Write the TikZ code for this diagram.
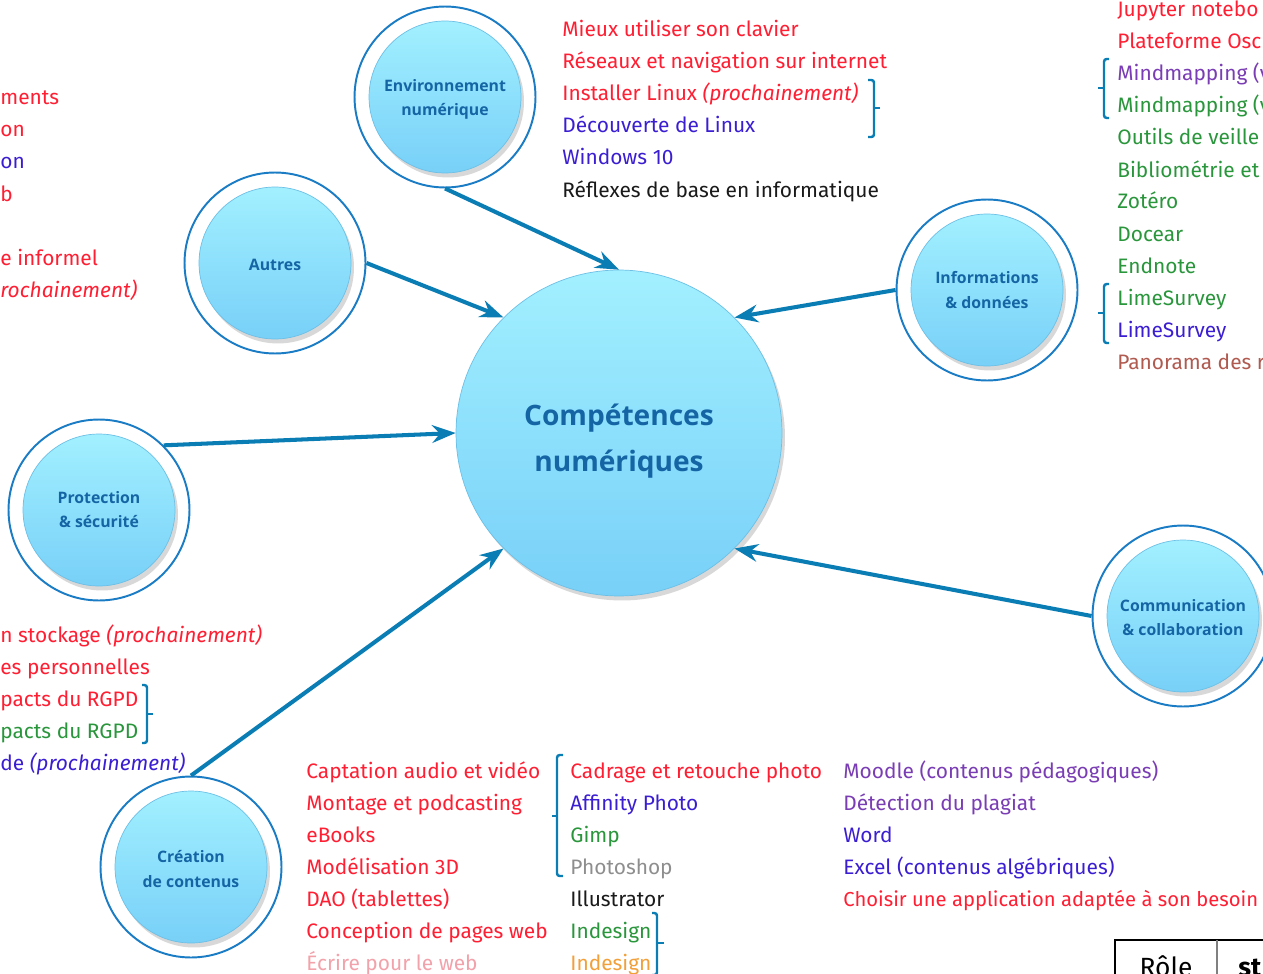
\documentclass[tikz,border=0pt]{standalone}
\usepackage{fontspec}
\setmainfont{Fira Sans}
\newfontfamily\bubblefont{Open Sans}
\usetikzlibrary{arrows.meta,shadows}
\definecolor{ringblue}{HTML}{1A7CC4}
\definecolor{arrowblue}{HTML}{0A7DB5}
\definecolor{bubbletop}{HTML}{A2F0FF}
\definecolor{bubblebottom}{HTML}{78D0F8}
\definecolor{bubbleedge}{HTML}{6CC0E6}
\definecolor{bubbletext}{HTML}{1565A5}
\definecolor{itemred}{HTML}{FF1E32}
\definecolor{itemblue}{HTML}{3C1ED2}
\definecolor{itempurple}{HTML}{7A3DB4}
\definecolor{itemgreen}{HTML}{2A963C}
\definecolor{itembrown}{HTML}{B05A50}
\definecolor{itempink}{HTML}{F2A2AA}
\definecolor{itemorange}{HTML}{F2A03A}
\definecolor{itemgray}{HTML}{8E8E8E}
\definecolor{itemblack}{HTML}{1A1A1A}

\begin{document}
\begin{tikzpicture}[>=Stealth, x=0.02cm, y=-0.02cm,
    ring/.style={circle, draw=ringblue, line width=1.1pt, fill=white, minimum size=3.62cm, inner sep=0pt},
    bubble/.style={circle, top color=bubbletop, bottom color=bubblebottom, draw=bubbleedge, line width=0.4pt,
      minimum size=3.04cm, inner sep=0pt, align=center, text=bubbletext,
      drop shadow={opacity=0.3, shadow xshift=0.6mm, shadow yshift=-0.9mm},
      font=\bubblefont\bfseries\fontsize{9}{13.7}\selectfont},
    bubbletitle/.style={align=center, text=bubbletext, inner sep=0pt,
      font=\bubblefont\bfseries\fontsize{9}{13.7}\selectfont},
    arr/.style={->, line width=2.3pt, draw=arrowblue},
    brk/.style={line width=1.4pt, draw=arrowblue, rounded corners=1.5pt},
    item/.style={anchor=base west, inner sep=0pt, font=\fontsize{11.9}{14}\selectfont}]
        \path [use as bounding box, fill=white] (0,0) rectangle (1263,973);
        % centre
        \node [bubble, minimum size=6.52cm] (centre) at (619,433) {};
        \node [bubbletitle, font=\bubblefont\bfseries\fontsize{16}{26}\selectfont] (centretitle) at (619,441) {Compétences\\numériques};
        % bubbles
        \node [ring] (envring) at (445,97) {};
        \node [bubble] (env) at (445,97) {};
        \node [bubbletitle] (envtitle) at (445,99) {Environnement\\numérique};
        \node [ring] (autresring) at (275,263) {};
        \node [bubble] (autres) at (275,263) {};
        \node [bubbletitle] (autrestitle) at (275,265) {Autres};
        \node [ring] (inforing) at (987,290) {};
        \node [bubble] (info) at (987,290) {};
        \node [bubbletitle] (infotitle) at (987,290) {Informations\\\& données};
        \node [ring] (protring) at (99,510) {};
        \node [bubble] (prot) at (99,510) {};
        \node [bubbletitle] (prottitle) at (99,510) {Protection\\\& sécurité};
        \node [ring] (commring) at (1183,616) {};
        \node [bubble] (comm) at (1183,616) {};
        \node [bubbletitle] (commtitle) at (1183,618) {Communication\\\& collaboration};
        \node [ring] (crearing) at (191,867) {};
        \node [bubble] (crea) at (191,867) {};
        \node [bubbletitle] (creatitle) at (191,869) {Création\\de contenus};
        % arrows
        \draw [arr] (envring.south) -- (centre.north);
        \draw [arr] (autresring.east) -- (centre.135);
        \draw [arr] (inforing.west) -- (centre.45);
        \draw [arr] (protring.45) -- (centre.west);
        \draw [arr] (commring.west) -- (centre.-45);
        \draw [arr] (crearing.north) -- (centre.-135);
        % environnement
        \node [item, text=itemred] (env1) at (562,37) {Mieux utiliser son clavier};
        \node [item, text=itemred] (env2) at (562,69) {Réseaux et navigation sur internet};
        \node [item, text=itemred] (env3) at (562,101) {Installer Linux \textit{(prochainement)}};
        \node [item, text=itemblue] (env4) at (562,133) {Découverte de Linux};
        \node [item, text=itemblue] (env5) at (562,165) {Windows 10};
        \node [item, text=itemblack] (env6) at (562,197) {Réflexes de base en informatique};
        \draw [brk] (868,80) -- (874,80) -- (874,137) -- (868,137);
        \draw [brk] (874,108) -- (880,108);
        % autres
        \node [item, text=itemred] (aut1) at (0,105) {ments};
        \node [item, text=itemred] (aut2) at (0,137) {on};
        \node [item, text=itemblue] (aut3) at (0,169) {on};
        \node [item, text=itemred] (aut4) at (0,201) {b};
        \node [item, text=itemred] (aut5) at (0,265) {e informel};
        \node [item, text=itemred] (aut6) at (0,297) {\textit{rochainement)}};
        % informations
        \node [item, text=itemred] (inf1) at (1117,17) {Jupyter notebo};
        \node [item, text=itemred] (inf2) at (1117,49) {Plateforme Osc};
        \node [item, text=itempurple] (inf3) at (1117,81) {Mindmapping (v};
        \node [item, text=itemgreen] (inf4) at (1117,113) {Mindmapping (v};
        \node [item, text=itemgreen] (inf5) at (1117,145) {Outils de veille};
        \node [item, text=itemgreen] (inf6) at (1117,177) {Bibliométrie et};
        \node [item, text=itemgreen] (inf7) at (1117,209) {Zotéro};
        \node [item, text=itemgreen] (inf8) at (1117,241) {Docear};
        \node [item, text=itemgreen] (inf9) at (1117,273) {Endnote};
        \node [item, text=itemgreen] (inf10) at (1117,305) {LimeSurvey};
        \node [item, text=itemblue] (inf11) at (1117,337) {LimeSurvey};
        \node [item, text=itembrown] (inf12) at (1117,369) {Panorama des r};
        \draw [brk] (1109,59) -- (1104,59) -- (1104,118) -- (1109,118);
        \draw [brk] (1104,88) -- (1098,88);
        \draw [brk] (1109,284) -- (1104,284) -- (1104,343) -- (1109,343);
        \draw [brk] (1104,313) -- (1098,313);
        % protection
        \node [item, text=itemred] (pro1) at (0,642) {n stockage \textit{(prochainement)}};
        \node [item, text=itemred] (pro2) at (0,674) {es personnelles};
        \node [item, text=itemred] (pro3) at (0,706) {pacts du RGPD};
        \node [item, text=itemgreen] (pro4) at (0,738) {pacts du RGPD};
        \node [item, text=itemblue] (pro5) at (0,770) {de \textit{(prochainement)}};
        \draw [brk] (142,685) -- (147,685) -- (147,743) -- (142,743);
        \draw [brk] (147,714) -- (153,714);
        % creation
        \node [item, text=itemred] (cre1) at (306,778) {Captation audio et vidéo};
        \node [item, text=itemred] (cre2) at (306,810) {Montage et podcasting};
        \node [item, text=itemred] (cre3) at (306,842) {eBooks};
        \node [item, text=itemred] (cre4) at (306,874) {Modélisation 3D};
        \node [item, text=itemred] (cre5) at (306,906) {DAO (tablettes)};
        \node [item, text=itemred] (cre6) at (306,938) {Conception de pages web};
        \node [item, text=itempink] (cre7) at (306,970) {Écrire pour le web};
        \node [item, text=itemred] (img1) at (570,778) {Cadrage et retouche photo};
        \node [item, text=itemblue] (img2) at (570,810) {Affinity Photo};
        \node [item, text=itemgreen] (img3) at (570,842) {Gimp};
        \node [item, text=itemgray] (img4) at (570,874) {Photoshop};
        \node [item, text=itemblack] (img5) at (570,906) {Illustrator};
        \node [item, text=itemgreen] (img6) at (570,938) {Indesign};
        \node [item, text=itemorange] (img7) at (570,970) {Indesign};
        \draw [brk] (563,755) -- (557,755) -- (557,876) -- (563,876);
        \draw [brk] (557,816) -- (552,816);
        \draw [brk] (652,913) -- (657,913) -- (657,975) -- (652,975);
        \draw [brk] (657,943) -- (664,943);
        \node [item, text=itempurple] (app1) at (843,778) {Moodle (contenus pédagogiques)};
        \node [item, text=itempurple] (app2) at (843,810) {Détection du plagiat};
        \node [item, text=itemblue] (app3) at (843,842) {Word};
        \node [item, text=itemblue] (app4) at (843,874) {Excel (contenus algébriques)};
        \node [item, text=itemred, font=\fontsize{11.5}{14}\selectfont] (app5) at (843,906) {Choisir une application adaptée à son besoin};
        % table
        \draw [line width=0.8pt] (1115,975) -- (1115,940) -- (1265,940);
        \draw [line width=0.8pt, gray] (1217,940) -- (1217,975);
        \node [anchor=base, inner sep=0pt, font=\fontsize{15}{18}\selectfont] (role) at (1166,976) {Rôle};
        \node [anchor=base west, inner sep=0pt, font=\bfseries\fontsize{15}{18}\selectfont] (statut) at (1238,976) {st};
    \end{tikzpicture}
\end{document}
